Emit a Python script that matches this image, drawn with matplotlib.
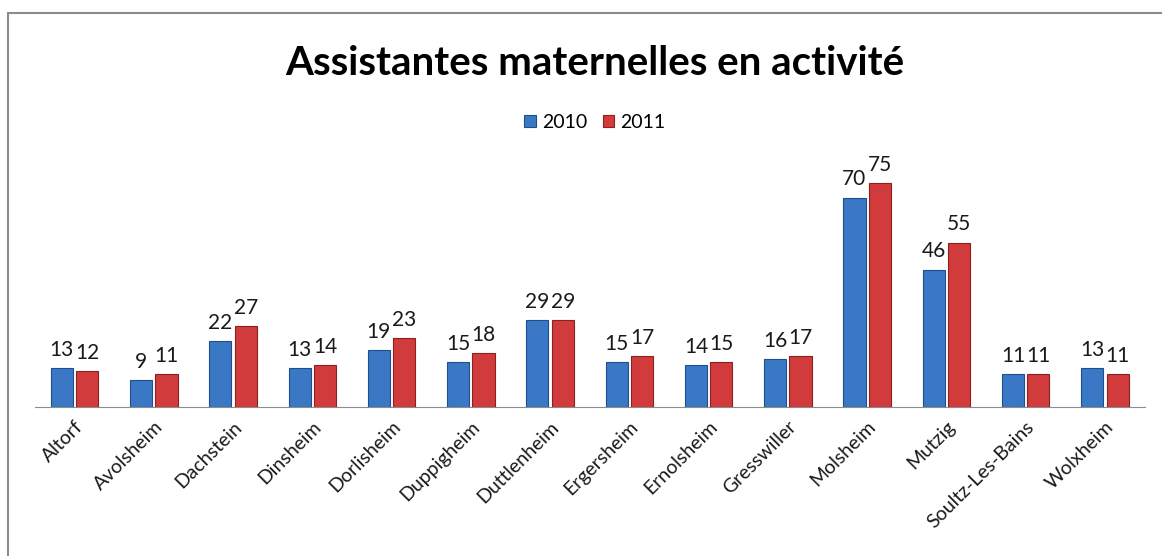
import matplotlib
matplotlib.use("Agg")
import matplotlib.pyplot as plt
import numpy as np
from matplotlib.patches import Rectangle

# Data
communes = ["Altorf", "Avolsheim", "Dachstein", "Dinsheim", "Dorlisheim",
            "Duppigheim", "Duttlenheim", "Ergersheim", "Ernolsheim", "Gresswiller",
            "Molsheim", "Mutzig", "Soultz-Les-Bains", "Wolxheim"]
values_2010 = [13, 9, 22, 13, 19, 15, 29, 15, 14, 16, 70, 46, 11, 13]
values_2011 = [12, 11, 27, 14, 23, 18, 29, 17, 15, 17, 75, 55, 11, 11]

plt.rcParams['font.family'] = ['Lato', 'DejaVu Sans']

fig = plt.figure(figsize=(11.62, 5.56), dpi=100)
fig.patches.append(Rectangle((0.0069, -0.05), 1.1, 0.0266 + 1.0, transform=fig.transFigure,
                             fill=False, edgecolor='#8c8c8c', linewidth=1.5))

ax = fig.add_axes([0.030, 0.268, 0.955, 0.430])
x = np.arange(len(communes))
w = 0.28
b1 = ax.bar(x - w / 2 - 0.02, values_2010, w, color='#3a78c6', edgecolor='#1f4f8a',
            linewidth=0.8, label='2010')
b2 = ax.bar(x + w / 2 + 0.02, values_2011, w, color='#d23b3b', edgecolor='#8e1f1f',
            linewidth=0.8, label='2011')

for bars in (b1, b2):
    for r in bars:
        ax.annotate(f"{int(r.get_height())}", (r.get_x() + r.get_width() / 2, r.get_height()),
                    xytext=(0, 6), textcoords='offset points', ha='center', va='bottom',
                    fontsize=15, color='#1a1a1a')

ax.set_xlim(-0.5, len(communes) - 0.5)
ax.set_ylim(0, 80)
ax.set_yticks([])
for s in ['top', 'right', 'left']:
    ax.spines[s].set_visible(False)
ax.spines['bottom'].set_color('#8c8c8c')
ax.set_xticks(x)
ax.set_xticklabels(communes, rotation=45, ha='right', rotation_mode='anchor',
                   fontsize=14, color='#1a1a1a')
ax.tick_params(axis='x', length=0, pad=8)

fig.text(0.512, 0.885, "Assistantes maternelles en activité", ha='center', va='center',
         fontsize=29, fontweight='bold', color='#000000')
fig.legend(handles=[b1, b2], loc='center', bbox_to_anchor=(0.512, 0.78), ncol=2,
           frameon=False, fontsize=14, handlelength=0.6, handleheight=0.6,
           handletextpad=0.3, columnspacing=0.8)

fig.savefig("out.png", dpi=100)
